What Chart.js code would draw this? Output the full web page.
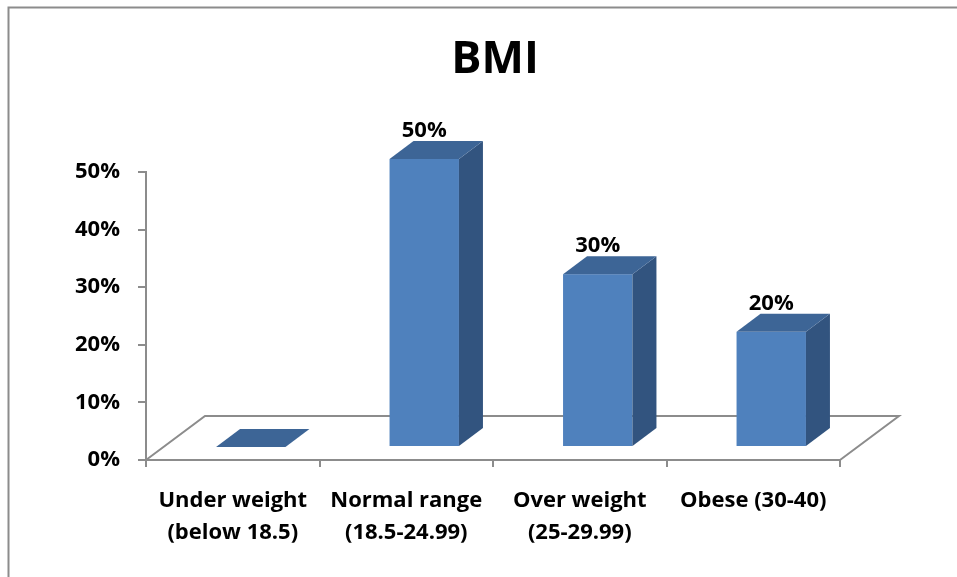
<!DOCTYPE html>
<html>
<head>
<meta charset="utf-8">
<title>BMI</title>
<script src="https://cdn.jsdelivr.net/npm/chart.js@4/dist/chart.umd.min.js"></script>
<style>
  html, body { margin: 0; padding: 0; background: #ffffff; }
  #wrap { width: 957px; height: 577px; }
</style>
</head>
<body>
<div id="wrap"><canvas id="chart" width="957" height="577"></canvas></div>
<script>
// BMI groups and the share of people in each
const chartTitle = 'BMI';
const categories = [
  ['Under weight', '(below 18.5)'],
  ['Normal range', '(18.5-24.99)'],
  ['Over weight', '(25-29.99)'],
  ['Obese (30-40)']
];
const shares = [0, 50, 30, 20];
const axisMin = 0;
const axisMax = 50;
const axisStep = 10;

const FONT = "'Open Sans', 'Liberation Sans', sans-serif";
const AXIS_GREY = '#8C8C8C';
const FACE = { front: '#4F81BD', top: '#3D6596', side: '#32547F' };
// pseudo-3D offsets (pixels)
const FLOOR_DEPTH = { dx: 59, dy: -44 };
const BAR_SHIFT = { dx: 18, dy: -13 };
const BAR_DEPTH = { dx: 24, dy: -18 };
// the frame runs off the right edge, so the title sits right of the canvas centre
const TITLE_POS = { x: 495, y: 60 };

function poly(ctx, pts, fill) {
  ctx.beginPath();
  ctx.moveTo(pts[0][0], pts[0][1]);
  for (let i = 1; i < pts.length; i++) ctx.lineTo(pts[i][0], pts[i][1]);
  ctx.closePath();
  ctx.fillStyle = fill;
  ctx.fill();
}

const box3d = {
  id: 'box3d',
  beforeDraw(chart) {
    const ctx = chart.ctx;
    ctx.save();
    ctx.strokeStyle = AXIS_GREY;
    ctx.lineWidth = 2;
    ctx.strokeRect(8.5, 7.5, 2000, 2000);
    ctx.fillStyle = '#000000';
    ctx.font = 'bold 45px ' + FONT;
    ctx.textAlign = 'center';
    ctx.textBaseline = 'middle';
    ctx.fillText(chartTitle, TITLE_POS.x, TITLE_POS.y);
    ctx.restore();
  },
  beforeDatasetsDraw(chart) {
    const { ctx, chartArea: a } = chart;
    ctx.save();
    ctx.strokeStyle = AXIS_GREY;
    ctx.lineWidth = 2;
    ctx.beginPath();
    ctx.moveTo(a.left, a.bottom);
    ctx.lineTo(a.left + FLOOR_DEPTH.dx, a.bottom + FLOOR_DEPTH.dy);
    ctx.lineTo(a.right + FLOOR_DEPTH.dx, a.bottom + FLOOR_DEPTH.dy);
    ctx.lineTo(a.right, a.bottom);
    ctx.stroke();
    ctx.restore();
  },
  afterDatasetsDraw(chart) {
    const ctx = chart.ctx;
    const meta = chart.getDatasetMeta(0);
    const values = chart.data.datasets[0].data;
    ctx.save();
    meta.data.forEach((bar, i) => {
      const p = bar.getProps(['x', 'y', 'base', 'width'], true);
      const L = p.x - p.width / 2 + BAR_SHIFT.dx;
      const R = L + p.width;
      const T = p.y + BAR_SHIFT.dy;
      const B = p.base + BAR_SHIFT.dy;
      const dx = BAR_DEPTH.dx, dy = BAR_DEPTH.dy;
      if (B - T > 0.5) {
        ctx.fillStyle = FACE.front;
        ctx.fillRect(L, T, R - L, B - T);
        poly(ctx, [[R, T], [R + dx, T + dy], [R + dx, B + dy], [R, B]], FACE.side);
      }
      poly(ctx, [[L, T], [R, T], [R + dx, T + dy], [L + dx, T + dy]], FACE.top);

      const v = values[i];
      if (v > 0) {
        ctx.fillStyle = '#000000';
        ctx.font = 'bold 22px ' + FONT;
        ctx.textAlign = 'center';
        ctx.textBaseline = 'middle';
        ctx.fillText(v + '%', (L + R) / 2, T + dy - 10);
      }
    });
    ctx.restore();
  }
};

new Chart(document.getElementById('chart'), {
  type: 'bar',
  data: {
    labels: categories,
    datasets: [{
      label: chartTitle,
      data: shares,
      backgroundColor: 'rgba(0,0,0,0)',
      borderWidth: 0,
      categoryPercentage: 1,
      barPercentage: 0.4
    }]
  },
  options: {
    responsive: false,
    devicePixelRatio: 1,
    animation: false,
    layout: { padding: { left: 0, right: 117, top: 172, bottom: 0 } },
    plugins: {
      legend: { display: false },
      tooltip: { enabled: false },
      title: { display: false }
    },
    scales: {
      x: {
        afterFit(scale) { scale.height = 117; },
        grid: {
          offset: true,
          drawOnChartArea: false,
          drawTicks: true,
          tickLength: 7,
          color: AXIS_GREY,
          lineWidth: 2
        },
        border: { display: true, color: AXIS_GREY, width: 2 },
        ticks: {
          color: '#000000',
          padding: 18,
          maxRotation: 0,
          autoSkip: false,
          font: { family: FONT, size: 22, weight: 'bold', lineHeight: 1.45 }
        }
      },
      y: {
        min: axisMin,
        max: axisMax,
        afterFit(scale) { scale.width = 146; },
        grid: {
          drawOnChartArea: false,
          drawTicks: true,
          tickLength: 8,
          color: AXIS_GREY,
          lineWidth: 2
        },
        border: { display: true, color: AXIS_GREY, width: 2 },
        ticks: {
          stepSize: axisStep,
          color: '#000000',
          padding: 18,
          callback: v => v + '%',
          font: { family: FONT, size: 22, weight: 'bold' }
        }
      }
    }
  },
  plugins: [box3d]
});
</script>
</body>
</html>
